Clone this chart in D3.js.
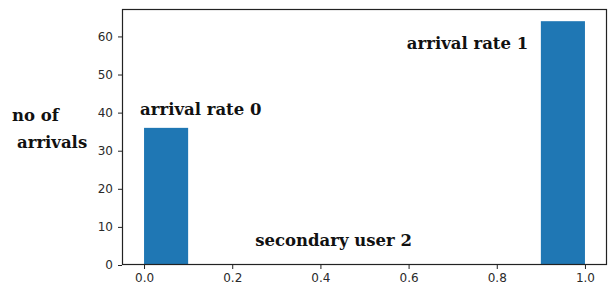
<!DOCTYPE html>
<html>
<head>
<meta charset="utf-8">
<script src="https://cdn.jsdelivr.net/npm/d3@7"></script>
<style>
  body { margin: 0; background: #fff; }
  svg { display: block; }
</style>
</head>
<body>
<div id="chart"></div>
<script>
// histogram of arrivals, 10 bins over [0, 1]
var binEdges = [0, 0.1, 0.2, 0.3, 0.4, 0.5, 0.6, 0.7, 0.8, 0.9, 1.0];
var counts = [36, 0, 0, 0, 0, 0, 0, 0, 0, 64];
var xTicks = [0, 0.2, 0.4, 0.6, 0.8, 1.0];
var yTicks = [0, 10, 20, 30, 40, 50, 60];
var annotations = [
  { text: 'arrival rate 0', x: -0.009, y: 39.4 },
  { text: 'arrival rate 1', x: 0.596, y: 56.7 },
  { text: 'secondary user 2', x: 0.252, y: 5.0 }
];

var width = 614, height = 284;
var margin = { top: 9, right: 7, bottom: 19, left: 122 };

var svg = d3.select('#chart').append('svg')
  .attr('width', width)
  .attr('height', height);

var xScale = d3.scaleLinear()
  .domain([-0.05, 1.05])
  .range([margin.left, width - margin.right]);
var yScale = d3.scaleLinear()
  .domain([0, 67.2])
  .range([height - margin.bottom, margin.top]);

var bins = counts.map(function (c, i) {
  return { x0: binEdges[i], x1: binEdges[i + 1], count: c };
}).filter(function (d) { return d.count > 0; });

svg.append('g')
  .selectAll('rect')
  .data(bins)
  .enter().append('rect')
  .attr('x', function (d) { return xScale(d.x0); })
  .attr('y', function (d) { return yScale(d.count); })
  .attr('width', function (d) { return xScale(d.x1) - xScale(d.x0); })
  .attr('height', function (d) { return yScale(0) - yScale(d.count); })
  .attr('fill', '#1f77b4');

var xAxis = svg.append('g')
  .attr('transform', 'translate(0,' + (height - margin.bottom) + ')')
  .call(d3.axisBottom(xScale).tickValues(xTicks).tickFormat(d3.format('.1f')).tickSizeOuter(0).tickSize(4));
var yAxis = svg.append('g')
  .attr('transform', 'translate(' + margin.left + ',0)')
  .call(d3.axisLeft(yScale).tickValues(yTicks).tickSizeOuter(0).tickSize(4));

[xAxis, yAxis].forEach(function (ax) {
  ax.select('.domain').remove();
  ax.selectAll('.tick line').attr('stroke', '#222').attr('stroke-width', 1);
  ax.selectAll('.tick text')
    .attr('fill', '#2a2a2a')
    .style('font-family', 'DejaVu Sans, sans-serif')
    .style('font-size', '12px');
});
xAxis.selectAll('.tick text').attr('dy', '0.85em');
yAxis.selectAll('.tick text').attr('x', -9);

// frame
svg.append('rect')
  .attr('x', margin.left + 0.5)
  .attr('y', margin.top + 0.5)
  .attr('width', width - margin.left - margin.right - 1)
  .attr('height', height - margin.top - margin.bottom - 1)
  .attr('fill', 'none')
  .attr('stroke', '#222')
  .attr('stroke-width', 1.2);

var serif = 'DejaVu Serif, serif';

svg.append('g')
  .selectAll('text')
  .data(annotations)
  .enter().append('text')
  .attr('x', function (d) { return xScale(d.x); })
  .attr('y', function (d) { return yScale(d.y); })
  .text(function (d) { return d.text; })
  .style('font-family', serif)
  .style('font-weight', 'bold')
  .style('font-size', '16.5px')
  .attr('fill', '#111');

svg.append('text')
  .attr('x', 12).attr('y', 121)
  .text('no of')
  .style('font-family', serif).style('font-weight', 'bold').style('font-size', '16.5px')
  .attr('fill', '#111');
svg.append('text')
  .attr('x', 17).attr('y', 148)
  .text('arrivals')
  .style('font-family', serif).style('font-weight', 'bold').style('font-size', '16.5px')
  .attr('fill', '#111');
</script>
</body>
</html>
